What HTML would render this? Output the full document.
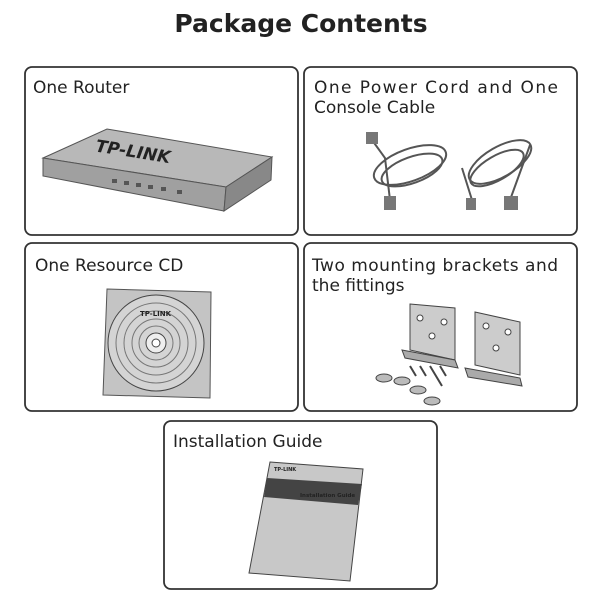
<!DOCTYPE html>
<html><head><meta charset="utf-8"><style>
body{margin:0;background:#fff;width:600px;height:600px;overflow:hidden}
svg{display:block}
text{font-family:"DejaVu Sans","Liberation Sans",sans-serif;fill:#222}
</style></head><body>
<svg width="600" height="600" viewBox="0 0 600 600">
<text x="301" y="32" text-anchor="middle" font-size="25" font-weight="bold" fill="#222">Package Contents</text>
<g fill="none" stroke="#333" stroke-width="1.8">
<rect x="25" y="67" width="273" height="168" rx="7"/>
<rect x="304" y="67" width="273" height="168" rx="7"/>
<rect x="25" y="243" width="273" height="168" rx="7"/>
<rect x="304" y="243" width="273" height="168" rx="7"/>
<rect x="164" y="421" width="273" height="168" rx="7"/>
</g>
<g font-size="17">
<text x="33" y="93">One Router</text>
<text x="314" y="93" textLength="244">One Power Cord and One</text>
<text x="314" y="113">Console Cable</text>
<text x="35" y="271">One Resource CD</text>
<text x="312" y="271" textLength="246">Two mounting brackets and</text>
<text x="312" y="291">the fittings</text>
<text x="173" y="447">Installation Guide</text>
</g>
<!-- router -->
<polygon points="43,158 107,129 272,157 226,187" fill="#b8b8b8" stroke="#555"/>
<polygon points="43,158 226,187 224,211 43,176" fill="#a0a0a0" stroke="#555"/>
<polygon points="226,187 272,157 271,180 224,211" fill="#888" stroke="#555"/>
<text x="95" y="160" font-size="17" font-weight="bold" font-style="italic" fill="#d8d8d8" transform="rotate(9 150 155)">TP-LINK</text>
<g fill="#555"><rect x="112" y="179" width="5" height="4"/><rect x="124" y="181" width="5" height="4"/><rect x="136" y="183" width="5" height="4"/><rect x="148" y="185" width="5" height="4"/><rect x="161" y="187" width="5" height="4"/><rect x="177" y="190" width="5" height="4"/></g>
<!-- cables -->
<g fill="none" stroke="#555" stroke-width="2">
<ellipse cx="410" cy="165" rx="38" ry="16" transform="rotate(-20 410 165)"/>
<ellipse cx="412" cy="170" rx="32" ry="13" transform="rotate(-20 412 170)"/>
<path d="M372 140 L385 158 L390 200"/>
<ellipse cx="500" cy="162" rx="35" ry="15" transform="rotate(-30 500 162)"/>
<ellipse cx="497" cy="168" rx="30" ry="12" transform="rotate(-30 497 168)"/>
<path d="M462 168 L472 200 M530 145 L510 200"/>
</g>
<rect x="366" y="132" width="12" height="12" fill="#777"/>
<rect x="384" y="196" width="12" height="14" fill="#777"/>
<rect x="466" y="198" width="10" height="12" fill="#777"/>
<rect x="504" y="196" width="14" height="14" fill="#777"/>
<!-- CD -->
<polygon points="107,289 211,292 210,398 103,395" fill="#c4c4c4" stroke="#555"/>
<circle cx="156" cy="343" r="48" fill="#d4d4d4" stroke="#444"/>
<g fill="none" stroke="#777" stroke-width="1"><circle cx="156" cy="343" r="40"/><circle cx="156" cy="343" r="32"/><circle cx="156" cy="343" r="24"/><circle cx="156" cy="343" r="17"/></g>
<circle cx="156" cy="343" r="10" fill="#eee" stroke="#444"/><circle cx="156" cy="343" r="4" fill="#fff" stroke="#444"/>
<text x="140" y="316" font-size="7" font-weight="bold" fill="#444">TP-LINK</text>
<!-- brackets -->
<polygon points="410,304 455,308 455,360 410,350" fill="#ccc" stroke="#444"/>
<polygon points="402,350 455,360 458,368 405,358" fill="#aaa" stroke="#444"/>
<polygon points="475,312 520,322 520,375 475,365" fill="#ccc" stroke="#444"/>
<polygon points="465,368 520,378 522,386 468,377" fill="#aaa" stroke="#444"/>
<g fill="#fff" stroke="#444"><circle cx="420" cy="318" r="3"/><circle cx="444" cy="322" r="3"/><circle cx="432" cy="336" r="3"/><circle cx="486" cy="326" r="3"/><circle cx="508" cy="332" r="3"/><circle cx="496" cy="348" r="3"/></g>
<g fill="#bbb" stroke="#444"><ellipse cx="384" cy="378" rx="8" ry="4"/><ellipse cx="402" cy="381" rx="8" ry="4"/><ellipse cx="418" cy="390" rx="8" ry="4"/><ellipse cx="432" cy="401" rx="8" ry="4"/></g>
<g stroke="#444" stroke-width="2"><path d="M410 366 l6 10 M420 366 l6 10 M430 366 l6 10 M440 366 l6 10 M436 376 l6 10"/></g>
<!-- guide -->
<polygon points="270,462 363,469 350,581 249,573" fill="#c8c8c8" stroke="#444"/>
<polygon points="267,478 362,484 358,505 264,497" fill="#444"/>
<text x="300" y="497" font-size="5.5" font-weight="bold" fill="#fff">Installation Guide</text>
<text x="274" y="471" font-size="5" font-weight="bold" fill="#333">TP-LINK</text>
</svg>
</body></html>
